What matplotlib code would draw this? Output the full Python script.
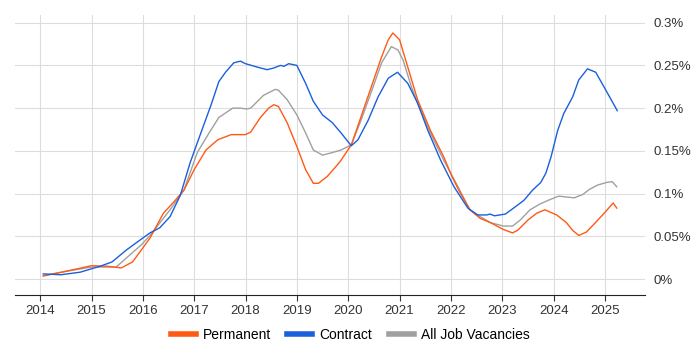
import numpy as np
import matplotlib
matplotlib.use('Agg')
import matplotlib.pyplot as plt
from matplotlib.ticker import FuncFormatter

# values in percent of all job vacancies
perm_x = [2014.06, 2014.5, 2015.0, 2015.3, 2015.58, 2015.8, 2015.97, 2016.14, 2016.4, 2016.6, 2016.8,
          2017.0, 2017.23, 2017.46, 2017.72, 2018.0, 2018.1, 2018.29, 2018.45, 2018.55, 2018.64,
          2018.81, 2019.0, 2019.17, 2019.32, 2019.42, 2019.59, 2019.78, 2019.86, 2020.06, 2020.25,
          2020.45, 2020.65, 2020.78, 2020.87, 2021.0, 2021.16, 2021.35, 2021.6, 2021.86, 2022.02,
          2022.17, 2022.37, 2022.57, 2022.77, 2023.02, 2023.2, 2023.3, 2023.5, 2023.67, 2023.83,
          2024.06, 2024.25, 2024.37, 2024.49, 2024.64, 2024.83, 2025.0, 2025.16, 2025.23]
perm_y = [0.0035, 0.009, 0.0156, 0.015, 0.013, 0.02, 0.034, 0.048, 0.077, 0.09, 0.104,
          0.128, 0.151, 0.163, 0.169, 0.169, 0.172, 0.189, 0.2, 0.204, 0.202,
          0.183, 0.155, 0.128, 0.112, 0.112, 0.12, 0.133, 0.139, 0.157, 0.19,
          0.225, 0.26, 0.28, 0.288, 0.28, 0.248, 0.21, 0.174, 0.143, 0.12,
          0.102, 0.081, 0.071, 0.066, 0.058, 0.054, 0.057, 0.069, 0.077, 0.081,
          0.075, 0.066, 0.057, 0.051, 0.055, 0.067, 0.078, 0.089, 0.083]

contract_x = [2014.06, 2014.4, 2014.78, 2015.17, 2015.4, 2015.68, 2016.0, 2016.14, 2016.33, 2016.53,
              2016.73, 2016.92, 2017.13, 2017.33, 2017.48, 2017.61, 2017.77, 2017.9, 2018.0, 2018.23,
              2018.42, 2018.55, 2018.68, 2018.75, 2018.84, 2019.0, 2019.17, 2019.32, 2019.5, 2019.69,
              2019.86, 2020.06, 2020.19, 2020.39, 2020.58, 2020.78, 2020.96, 2021.16, 2021.35, 2021.55,
              2021.8, 2022.06, 2022.33, 2022.52, 2022.7, 2022.76, 2022.85, 2023.06, 2023.22, 2023.42,
              2023.59, 2023.75, 2023.85, 2023.95, 2024.08, 2024.2, 2024.37, 2024.49, 2024.66, 2024.82,
              2024.98, 2025.12, 2025.24]
contract_y = [0.006, 0.005, 0.008, 0.015, 0.02, 0.034, 0.048, 0.054, 0.06, 0.073,
              0.098, 0.136, 0.171, 0.204, 0.231, 0.242, 0.253, 0.255, 0.252, 0.248,
              0.245, 0.247, 0.25, 0.249, 0.252, 0.25, 0.229, 0.208, 0.192, 0.183,
              0.171, 0.156, 0.163, 0.186, 0.213, 0.235, 0.242, 0.229, 0.206, 0.174,
              0.139, 0.108, 0.083, 0.075, 0.075, 0.076, 0.074, 0.076, 0.083, 0.092,
              0.104, 0.113, 0.124, 0.143, 0.174, 0.194, 0.213, 0.233, 0.246, 0.242,
              0.225, 0.21, 0.197]

all_x = [2014.06, 2014.5, 2015.0, 2015.48, 2015.97, 2016.14, 2016.53, 2016.8, 2017.06, 2017.29,
         2017.48, 2017.75, 2017.9, 2018.02, 2018.1, 2018.35, 2018.58, 2018.64, 2018.81, 2019.0,
         2019.17, 2019.32, 2019.5, 2019.69, 2019.86, 2020.06, 2020.25, 2020.45, 2020.65, 2020.84,
         2020.97, 2021.07, 2021.23, 2021.35, 2021.6, 2021.86, 2022.12, 2022.37, 2022.57, 2022.77,
         2023.02, 2023.2, 2023.35, 2023.54, 2023.74, 2023.93, 2024.1, 2024.25, 2024.4, 2024.57,
         2024.7, 2024.86, 2025.03, 2025.14, 2025.23]
all_y = [0.004, 0.009, 0.014, 0.014, 0.04, 0.051, 0.081, 0.104, 0.148, 0.171,
         0.189, 0.2, 0.2, 0.199, 0.2, 0.215, 0.222, 0.221, 0.21, 0.192,
         0.171, 0.151, 0.145, 0.148, 0.151, 0.157, 0.186, 0.219, 0.253, 0.272,
         0.268, 0.256, 0.225, 0.206, 0.171, 0.139, 0.11, 0.081, 0.073, 0.066,
         0.062, 0.062, 0.069, 0.081, 0.088, 0.093, 0.097, 0.096, 0.095, 0.099,
         0.105, 0.11, 0.113, 0.114, 0.108]

years = list(range(2014, 2026))
yticks = [0, 0.05, 0.1, 0.15, 0.2, 0.25, 0.3]

plt.rcParams['font.family'] = ['Liberation Sans', 'DejaVu Sans']

fig = plt.figure(figsize=(7, 3.5), dpi=100)
ax = fig.add_axes([15/700, 55/350, 630/700, 280/350])

ax.plot(all_x, all_y, color='#a0a0a0', lw=1.0, label='All Job Vacancies', zorder=2)
ax.plot(perm_x, perm_y, color='#ff5a14', lw=1.0, label='Permanent', zorder=3)
ax.plot(contract_x, contract_y, color='#1a5fdc', lw=1.0, label='Contract', zorder=4)

ax.set_xlim(2013.51, 2025.78)
ax.set_ylim(-0.0187, 0.309)
ax.set_xticks(years)
ax.set_yticks(yticks)
ax.yaxis.tick_right()
ax.yaxis.set_major_formatter(FuncFormatter(lambda v, p: '%g%%' % round(v, 3)))
ax.grid(True, color='#dddddd', lw=0.8)
ax.set_axisbelow(True)
for s in ['top', 'left', 'right']:
    ax.spines[s].set_visible(False)
ax.spines['bottom'].set_color('#222222')
ax.tick_params(axis='y', length=0, labelsize=9.5, colors='#333333', pad=6)
ax.tick_params(axis='x', length=4, labelsize=9.5, colors='#333333', direction='out')

handles, labels = ax.get_legend_handles_labels()
order = [1, 2, 0]
leg = fig.legend([handles[i] for i in order], [labels[i] for i in order],
                 loc='center', bbox_to_anchor=(0.5, 15/350), ncol=3, frameon=False,
                 fontsize=10, handlelength=1.8, columnspacing=1.2, handletextpad=0.5)
for line in leg.get_lines():
    line.set_linewidth(4)

fig.savefig('out.png', dpi=100)
